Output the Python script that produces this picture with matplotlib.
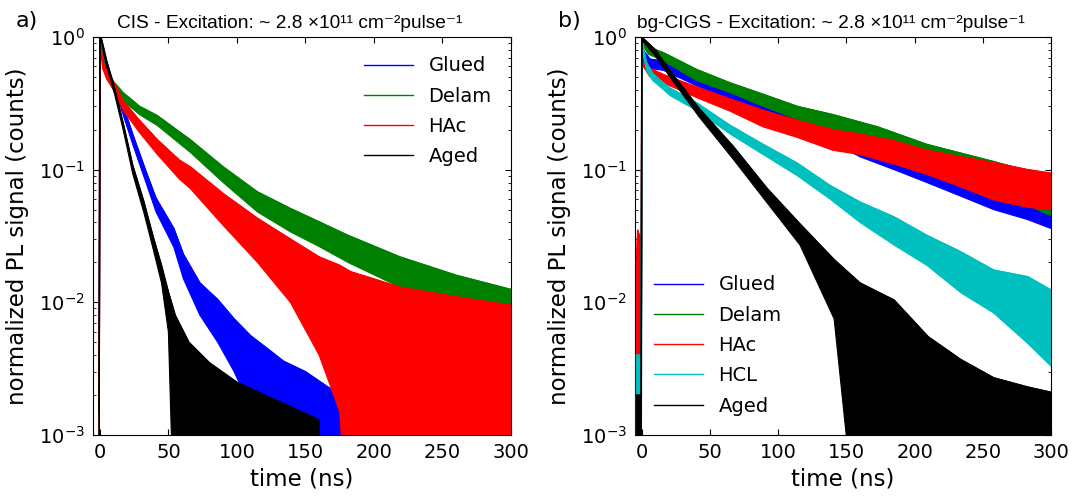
import numpy as np
import matplotlib
matplotlib.use('Agg')
import matplotlib.pyplot as plt

# values: time (ns) with lower / upper edge of the noisy trace
# a) CIS
cis_glued_t = [-0.5, 0, 3, 8, 15, 24, 34, 41, 54, 61, 73, 86, 98, 110, 122, 134, 150, 175, 200]
cis_glued_lo = [1e-4, 0.95, 0.62, 0.44, 0.30, 0.155, 0.078, 0.048, 0.026, 0.015, 0.008, 0.005, 0.003, 0.0016, 1e-4, 1e-4, 1e-4, 1e-4, 1e-4]
cis_glued_hi = [1.5e-3, 1.0, 0.72, 0.50, 0.35, 0.185, 0.095, 0.061, 0.036, 0.023, 0.014, 0.0105, 0.0075, 0.0056, 0.0045, 0.0036, 0.003, 0.002, 0.0015]

cis_delam_t = [-0.5, 0, 2, 5, 10, 17, 29, 42, 66, 90, 115, 139, 161, 181, 219, 260, 300]
cis_delam_lo = [1e-4, 0.95, 0.62, 0.50, 0.40, 0.33, 0.26, 0.215, 0.135, 0.080, 0.048, 0.034, 0.026, 0.020, 0.013, 0.0095, 0.0078]
cis_delam_hi = [1.5e-3, 1.0, 0.72, 0.58, 0.46, 0.38, 0.30, 0.255, 0.168, 0.105, 0.068, 0.051, 0.040, 0.032, 0.022, 0.016, 0.0125]

cis_hac_t = [-0.5, 0, 2, 5, 10, 17, 29, 42, 58, 66, 90, 115, 139, 160, 175, 183, 200, 219, 260, 300]
cis_hac_lo = [1e-4, 0.95, 0.58, 0.48, 0.40, 0.28, 0.19, 0.13, 0.085, 0.072, 0.038, 0.020, 0.010, 0.004, 0.0015, 1e-4, 1e-4, 1e-4, 1e-4, 1e-4]
cis_hac_hi = [1.5e-3, 1.0, 0.68, 0.56, 0.46, 0.33, 0.235, 0.168, 0.118, 0.105, 0.066, 0.043, 0.030, 0.022, 0.019, 0.017, 0.015, 0.013, 0.011, 0.0095]

cis_aged_t = [-0.5, 0, 1.2, 5, 10, 17, 24, 32, 39, 45, 50, 55, 65, 80, 100, 130, 160]
cis_aged_lo = [1e-4, 0.95, 0.92, 0.60, 0.40, 0.20, 0.093, 0.048, 0.025, 0.014, 0.006, 1e-4, 1e-4, 1e-4, 1e-4, 1e-4, 1e-4]
cis_aged_hi = [1.5e-3, 1.0, 0.97, 0.66, 0.44, 0.225, 0.108, 0.058, 0.031, 0.019, 0.012, 0.008, 0.005, 0.0035, 0.0025, 0.0018, 0.0013]

# b) bg-CIGS
cigs_glued_t = [-0.5, 0, 1, 6, 16, 40, 65, 89, 114, 138, 160, 185, 209, 234, 258, 283, 300]
cigs_glued_lo = [1e-4, 0.95, 0.70, 0.58, 0.56, 0.43, 0.34, 0.27, 0.21, 0.165, 0.125, 0.10, 0.08, 0.063, 0.05, 0.042, 0.036]
cigs_glued_hi = [1e-4, 1.0, 0.80, 0.68, 0.66, 0.52, 0.41, 0.33, 0.265, 0.21, 0.17, 0.14, 0.115, 0.095, 0.08, 0.07, 0.062]

cigs_delam_t = [-0.5, 0, 1, 5, 16, 40, 65, 89, 114, 140, 173, 209, 258, 300]
cigs_delam_lo = [1e-4, 0.95, 0.85, 0.74, 0.66, 0.47, 0.38, 0.30, 0.24, 0.20, 0.165, 0.115, 0.07, 0.045]
cigs_delam_hi = [1e-4, 1.0, 0.95, 0.84, 0.76, 0.57, 0.45, 0.37, 0.30, 0.26, 0.21, 0.155, 0.115, 0.088]

cigs_hac_t = [-4, -3, -1, -0.5, 0, 1, 6, 16, 40, 65, 89, 114, 140, 160, 185, 209, 234, 258, 283, 300]
cigs_hac_lo = [1e-4, 1e-4, 1e-4, 1e-4, 0.90, 0.60, 0.50, 0.45, 0.35, 0.275, 0.21, 0.175, 0.14, 0.13, 0.11, 0.092, 0.074, 0.059, 0.052, 0.050]
cigs_hac_hi = [0.02, 0.035, 0.03, 0.025, 1.0, 0.70, 0.58, 0.52, 0.42, 0.34, 0.28, 0.235, 0.20, 0.185, 0.165, 0.14, 0.125, 0.113, 0.10, 0.094]

cigs_hcl_t = [-4, -0.5, 0, 1, 3.4, 8, 16, 21, 40, 65, 89, 114, 138, 160, 185, 209, 234, 258, 283, 300]
cigs_hcl_lo = [1e-4, 1e-4, 0.90, 0.75, 0.56, 0.47, 0.40, 0.36, 0.28, 0.185, 0.13, 0.09, 0.06, 0.040, 0.027, 0.019, 0.0118, 0.0083, 0.0049, 0.0033]
cigs_hcl_hi = [0.004, 0.004, 1.0, 0.85, 0.64, 0.53, 0.45, 0.41, 0.32, 0.215, 0.155, 0.112, 0.076, 0.057, 0.044, 0.032, 0.024, 0.0175, 0.0156, 0.0124]

cigs_aged_t = [-4, -0.5, 0, 10, 20, 42, 67, 92, 116, 141, 160, 185, 210, 234, 258, 283, 300]
cigs_aged_lo = [1e-4, 1e-4, 0.95, 0.72, 0.51, 0.25, 0.12, 0.056, 0.027, 0.0075, 1e-4, 1e-4, 1e-4, 1e-4, 1e-4, 1e-4, 1e-4]
cigs_aged_hi = [0.002, 0.002, 1.0, 0.80, 0.57, 0.29, 0.15, 0.072, 0.039, 0.021, 0.014, 0.0104, 0.0055, 0.0037, 0.0027, 0.0023, 0.0021]

xticks = [0, 50, 100, 150, 200, 250, 300]

plt.rcParams['font.family'] = 'DejaVu Sans'
plt.rcParams['axes.unicode_minus'] = False
plt.rcParams['xtick.direction'] = 'in'
plt.rcParams['ytick.direction'] = 'in'
plt.rcParams['xtick.top'] = True
plt.rcParams['ytick.right'] = True
plt.rcParams['xtick.major.size'] = 4
plt.rcParams['ytick.major.size'] = 4
plt.rcParams['ytick.minor.size'] = 2


def draw_band(ax, t, lo, hi, color, label, z):
    ax.fill_between(t, lo, hi, facecolor=color, edgecolor=color, linewidth=0.8, zorder=z)
    ax.plot(t, hi, color=color, lw=1, label=label, zorder=z)


def style_axes(ax, title, tag):
    ax.set_yscale('log')
    ax.set_ylim(1e-3, 1)
    ax.set_xlim(-5, 300)
    ax.set_xticks(xticks)
    ax.tick_params(labelsize=14, pad=6)
    ax.set_xlabel('time (ns)', fontsize=16.5)
    ax.set_ylabel('normalized PL signal (counts)', fontsize=16.5, labelpad=7)
    ax.text(0.47, 1.012, title, transform=ax.transAxes, ha='center', va='bottom',
            fontsize=13.8, family=['Liberation Sans', 'DejaVu Sans'])
    ax.text(-0.185, 1.04, tag, transform=ax.transAxes, ha='left', va='center', fontsize=16)


fig = plt.figure(figsize=(10.72, 4.96), dpi=100)
ax1 = fig.add_axes([93 / 1072, 61 / 496, 418 / 1072, 398 / 496])
ax2 = fig.add_axes([635 / 1072, 61 / 496, 416 / 1072, 398 / 496])

draw_band(ax1, cis_glued_t, cis_glued_lo, cis_glued_hi, '#0000ff', 'Glued', 2)
draw_band(ax1, cis_delam_t, cis_delam_lo, cis_delam_hi, '#008000', 'Delam', 3)
draw_band(ax1, cis_hac_t, cis_hac_lo, cis_hac_hi, '#ff0000', 'HAc', 4)
draw_band(ax1, cis_aged_t, cis_aged_lo, cis_aged_hi, '#000000', 'Aged', 5)
style_axes(ax1, 'CIS - Excitation: ~ 2.8 ×10¹¹ cm⁻²pulse⁻¹', 'a)')
ax1.legend(loc='upper right', frameon=False, fontsize=14, labelspacing=0.58,
           handlelength=2.5, handletextpad=0.8, borderaxespad=0.6)

draw_band(ax2, cigs_glued_t, cigs_glued_lo, cigs_glued_hi, '#0000ff', 'Glued', 2)
draw_band(ax2, cigs_delam_t, cigs_delam_lo, cigs_delam_hi, '#008000', 'Delam', 3)
draw_band(ax2, cigs_hac_t, cigs_hac_lo, cigs_hac_hi, '#ff0000', 'HAc', 4)
draw_band(ax2, cigs_hcl_t, cigs_hcl_lo, cigs_hcl_hi, '#00bfbf', 'HCL', 5)
draw_band(ax2, cigs_aged_t, cigs_aged_lo, cigs_aged_hi, '#000000', 'Aged', 6)
style_axes(ax2, 'bg-CIGS - Excitation: ~ 2.8 ×10¹¹ cm⁻²pulse⁻¹', 'b)')
ax2.legend(loc='lower left', frameon=False, fontsize=14, labelspacing=0.58,
           handlelength=2.5, handletextpad=0.8, borderaxespad=0.6)

fig.savefig('out.png', dpi=100)
